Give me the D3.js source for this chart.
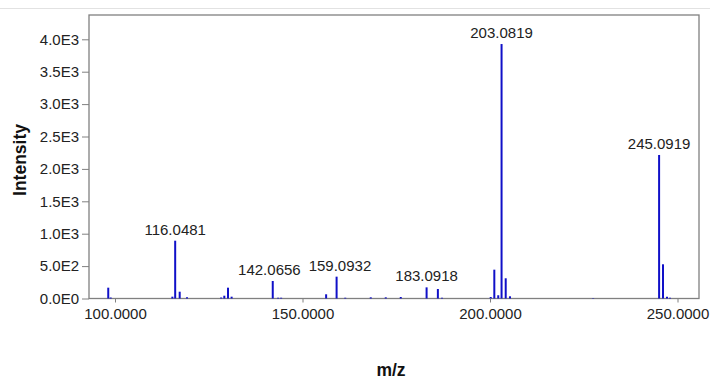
<!DOCTYPE html>
<html><head><meta charset="utf-8">
<script src="https://cdn.jsdelivr.net/npm/d3@7"></script>
<style>body{margin:0;background:#fff;} svg{display:block;font-family:"Liberation Sans",Arial,sans-serif;}</style>
</head><body>
<svg id="c" width="710" height="379"></svg>
<script>
const mzValues = [98.2, 98.85, 115.3, 116.0481, 117.25, 119.2, 128.3, 129.15, 130.13, 131.1,
  142.0656, 143.5, 144.3, 156.3, 159.0932, 161.4, 168.2, 172.2, 176.2, 183.0918, 186.1, 187.2,
  200.19, 201.15, 202.2, 203.0819, 204.19, 205.33, 227.5, 245.0919, 246.13, 247.2, 248.0];
const intensities = [167, 15, 28, 892, 105, 18, 15, 43, 167, 28,
  270, 12, 12, 65, 337, 12, 18, 18, 23, 172, 147, 12,
  23, 445, 50, 3927, 312, 34, 6, 2215, 528, 28, 10];
const labelledPeaks = ["116.0481", "142.0656", "159.0932", "183.0918", "203.0819", "245.0919"];
const xTicks = [100, 150, 200, 250];
const xTickLabels = ["100.0000", "150.0000", "200.0000", "250.0000"];
const yTicks = [0, 500, 1000, 1500, 2000, 2500, 3000, 3500, 4000];
const yTickLabels = ["0.0E0", "5.0E2", "1.0E3", "1.5E3", "2.0E3", "2.5E3", "3.0E3", "3.5E3", "4.0E3"];

const svg = d3.select("#c");
const L = 89, R = 699, T = 15, B = 298.5;
const FONT = "Liberation Sans, Arial, sans-serif";
const x = d3.scaleLinear().domain([100, 250]).range([115, 677.5]);
const y = d3.scaleLinear().domain([0, 4000]).range([B, 39.3]);

// faint top border
svg.append("line").attr("x1", 0).attr("x2", 710).attr("y1", 8.5).attr("y2", 8.5)
  .attr("stroke", "#e2e2e2").attr("stroke-width", 1);

// frame
svg.append("rect").attr("x", L).attr("y", T).attr("width", R - L).attr("height", B - T)
  .attr("fill", "none").attr("stroke", "#808080").attr("stroke-width", 1.3);

const data = mzValues.map((m, i) => ({mz: m, v: intensities[i]}));
svg.append("g").selectAll("line").data(data).join("line")
  .attr("x1", d => x(d.mz)).attr("x2", d => x(d.mz))
  .attr("y1", y(0)).attr("y2", d => y(d.v))
  .attr("stroke", "#1010c8").attr("stroke-width", 2);

// labels (with simple horizontal de-overlap)
const lab = svg.append("g").selectAll("text").data(data.filter(d => labelledPeaks.includes(d.mz.toFixed(4))))
  .join("text")
  .attr("x", d => x(d.mz)).attr("y", d => y(d.v) - 6)
  .attr("text-anchor", "middle").attr("font-size", 15).attr("fill", "#222")
  .text(d => d.mz.toFixed(4));
const nodes = lab.nodes();
for (let i = 1; i < nodes.length; i++) {
  const a = nodes[i - 1].getBBox(), b = nodes[i].getBBox();
  const gap = 8;
  const overlap = (a.x + a.width + gap) - b.x;
  const vOverlap = !(a.y + a.height < b.y || b.y + b.height < a.y);
  if (overlap > 0 && vOverlap) {
    nodes[i - 1].setAttribute("x", +nodes[i - 1].getAttribute("x") - overlap / 2);
    nodes[i].setAttribute("x", +nodes[i].getAttribute("x") + overlap / 2);
  }
}

// x axis
const xa = d3.axisBottom(x).tickValues(xTicks).tickSize(4).tickPadding(6)
  .tickFormat((d, i) => xTickLabels[i]);
const gx = svg.append("g").attr("transform", `translate(0,${B})`).call(xa);
gx.select(".domain").remove();
gx.selectAll("line").attr("stroke", "#808080");
gx.selectAll("text").attr("font-size", 15).attr("fill", "#222").attr("font-family", FONT);

// y axis
const ya = d3.axisLeft(y).tickValues(yTicks).tickSize(7).tickPadding(3)
  .tickFormat((d, i) => yTickLabels[i]);
const gy = svg.append("g").attr("transform", `translate(${L},0)`).call(ya);
gy.select(".domain").remove();
gy.selectAll("line").attr("stroke", "#808080");
gy.selectAll("text").attr("font-size", 15).attr("fill", "#222").attr("font-family", FONT);

// axis titles
svg.append("text").attr("transform", "translate(26,160) rotate(-90)")
  .attr("text-anchor", "middle").attr("font-size", 17.5).attr("font-weight", "bold").attr("fill", "#111")
  .text("Intensity");
svg.append("text").attr("x", 391).attr("y", 376)
  .attr("text-anchor", "middle").attr("font-size", 17.5).attr("font-weight", "bold").attr("fill", "#111")
  .text("m/z");
</script>
</body></html>
